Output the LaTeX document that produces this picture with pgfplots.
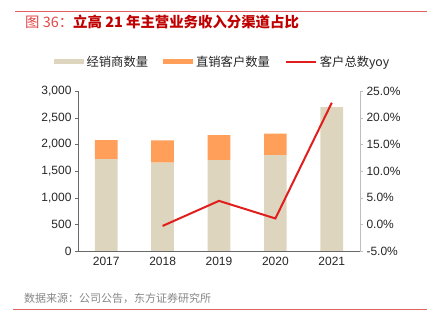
\documentclass[border=0pt]{standalone}
\usepackage{fontspec}
\setmainfont{Liberation Sans}
\newfontfamily\cjk{Noto Sans CJK SC}
\usepackage{pgfplots}
\pgfplotsset{compat=1.18}
\definecolor{beige}{RGB}{221,213,189}
\definecolor{orng}{RGB}{255,159,89}
\definecolor{lred}{RGB}{225,30,30}
\definecolor{tred}{RGB}{192,0,0}
\definecolor{tred1}{RGB}{228,70,70}
\definecolor{rulec}{RGB}{226,96,96}
\definecolor{axdark}{RGB}{105,105,105}
\definecolor{axlight}{RGB}{190,190,190}
\definecolor{srcgray}{RGB}{135,135,135}
\begin{document}
\begin{tikzpicture}[x=1bp,y=1bp]
\path (0,0) rectangle (429,322);
\draw[rulec, line width=0.8bp] (15,311) -- (427,311);
\draw[rulec, line width=0.8bp] (13,13) -- (427,13);
\node[anchor=west, inner sep=0] at (25,299.5) {\fontsize{14.4bp}{16bp}\cjk{\color{tred1}图 36：}{\color{tred}\bfseries 立高 21 年主营业务收入分渠道占比}};
\node[anchor=west, inner sep=0, text=srcgray] at (24,24) {\fontsize{11bp}{13bp}\cjk 数据来源：公司公告，东方证券研究所};

\begin{axis}[
  at={(78bp,71bp)}, anchor=south west, scale only axis,
  width=282bp, height=160bp,
  xmin=-0.5, xmax=4.5, ymin=0, ymax=3000,
  ybar stacked, bar width=22.7bp,
  axis x line*=bottom, axis y line*=left,
  x axis line style={axdark, -},
  y axis line style={axdark, -},
  xtick={0,1,2,3,4}, xticklabels={2017,2018,2019,2020,2021},
  xtick style={draw=none},
  minor xtick={0.5,1.5,2.5,3.5},
  minor x tick style={axdark, yshift=3bp},
  minor tick length=3bp,
  ytick={0,500,...,3000},
  y tick style={axdark},
  major tick length=3bp, tick align=outside,
  /pgf/number format/assume math mode=true,
  /pgf/number format/1000 sep={,},
  ticklabel style={font=\fontsize{12bp}{14bp}\selectfont, text=black!85},
  legend columns=3,
  legend style={draw=none, fill=none, at={(axis description cs:0.514,1.183)}, anchor=center,
    font=\fontsize{12.3bp}{14bp}\selectfont\cjk, text=black!85,
    /tikz/every even column/.append style={column sep=12bp},
    nodes={inner xsep=3bp, inner ysep=1bp}},
]
\addplot[fill=beige, draw=none, legend image code/.code={\fill[beige] (0bp,-2.5bp) rectangle (30bp,2.5bp);}]
  coordinates {(0,1725) (1,1656) (2,1706) (3,1800) (4,2700)};
\addlegendentry{经销商数量}
\addplot[fill=orng, draw=none, legend image code/.code={\fill[orng] (0bp,-2.5bp) rectangle (30bp,2.5bp);}]
  coordinates {(0,356) (1,419) (2,469) (3,400) (4,0)};
\addlegendentry{直销客户数量}
\addlegendimage{legend image code/.code={\draw[lred, line width=2bp] (0bp,0bp) -- (30bp,0bp);}}
\addlegendentry{客户总数yoy}
\end{axis}

\begin{axis}[
  at={(78bp,71bp)}, anchor=south west, scale only axis,
  width=282bp, height=160bp,
  xmin=-0.5, xmax=4.5, ymin=-5, ymax=25,
  axis x line=none, axis y line*=right,
  y axis line style={axlight, -},
  y tick style={axlight},
  major tick length=3bp, tick align=outside,
  ytick={-5,0,...,25},
  yticklabel={\pgfmathprintnumber[fixed,fixed zerofill,precision=1]{\tick}\%},
  /pgf/number format/assume math mode=true,
  ticklabel style={font=\fontsize{12bp}{14bp}\selectfont, text=black!85},
]
\addplot[lred, line width=2bp, mark=none] coordinates {(1,-0.3) (2,4.4) (3,1.1) (4,22.8)};
\end{axis}
\end{tikzpicture}
\end{document}
